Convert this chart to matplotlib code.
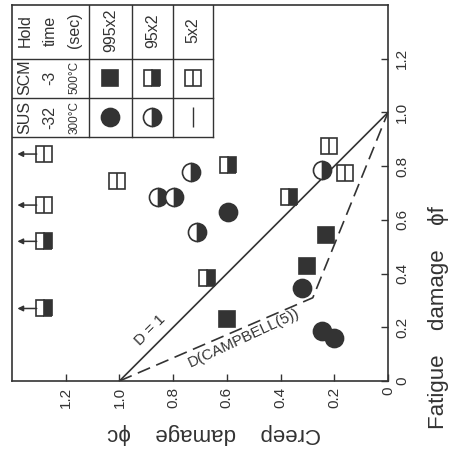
"""
 Creep-fatigue damage diagram (SCM and SUS, various hold times),
 drawn the way it appears in the scanned page: turned 90 degrees,
 creep damage running right-to-left along the bottom and fatigue
 damage running upward on the right.
"""

import matplotlib
matplotlib.use('Agg')
import matplotlib.pyplot as plt

plt.rcParams['font.family'] = ['Liberation Sans', 'DejaVu Sans']

ink = '#333333'

# SCM -3 (500°C), hold 995x2 sec : filled squares
scm995_creep = [0.60, 0.30, 0.23]
scm995_fatigue = [0.23, 0.43, 0.545]

# SCM -3, hold 95x2 sec : half filled squares
scm95_creep = [1.28, 1.28, 0.675, 0.595, 0.37]
scm95_fatigue = [0.52, 0.27, 0.385, 0.805, 0.685]
scm95_runout = [True, True, False, False, False]

# SCM -3, hold 5x2 sec : split open squares
scm5_creep = [1.28, 1.28, 1.01, 0.22, 0.16]
scm5_fatigue = [0.845, 0.655, 0.745, 0.875, 0.775]
scm5_runout = [True, True, False, False, False]

# SUS -32 (300°C), hold 995x2 sec : filled circles
sus995_creep = [0.595, 0.32, 0.245, 0.20]
sus995_fatigue = [0.63, 0.345, 0.185, 0.16]

# SUS -32, hold 95x2 sec : half filled circles
sus95_creep = [0.735, 0.855, 0.795, 0.71, 0.245]
sus95_fatigue = [0.78, 0.685, 0.685, 0.555, 0.785]

# damage envelopes
linear_creep = [1.0, 0.0]
linear_fatigue = [0.0, 1.0]
campbell_creep = [1.0, 0.28, 0.0]
campbell_fatigue = [0.0, 0.31, 1.0]

ticks = [0, 0.2, 0.4, 0.6, 0.8, 1.0, 1.2]
tick_labels = ['0', '0.2', '0.4', '0.6', '0.8', '1.0', '1.2']


# marker styles (used both for the points and the key table)
def filled_square(ax, c, f):
    ax.plot(c, f, 's', ms=11, mfc=ink, mec=ink, mew=1.2, ls='none')

def half_square(ax, c, f):
    ax.plot(c, f, 's', ms=11, fillstyle='right', mfc=ink, mfcalt='white',
            mec=ink, mew=1.2, ls='none')

def split_square(ax, c, f):
    ax.plot(c, f, 's', ms=11, mfc='white', mec=ink, mew=1.2, ls='none')
    ax.plot(c, f, '|', ms=11, mec=ink, mew=1.2, ls='none')

def filled_circle(ax, c, f):
    ax.plot(c, f, 'o', ms=13, mfc=ink, mec=ink, mew=1.2, ls='none')

def half_circle(ax, c, f):
    ax.plot(c, f, 'o', ms=13, fillstyle='right', mfc=ink, mfcalt='white',
            mec=ink, mew=1.2, ls='none')

def runout_arrows(ax, creep, fatigue, flags):
    for c, f, flag in zip(creep, fatigue, flags):
        if flag:
            ax.annotate('', xy=(c + 0.10, f), xytext=(c + 0.028, f),
                        arrowprops=dict(arrowstyle='-|>', color=ink, lw=1.1,
                                        mutation_scale=8, shrinkA=0, shrinkB=0))


fig = plt.figure(figsize=(4.61, 4.61), dpi=100)
ax = fig.add_axes([12 / 461, 1 - 381 / 461, 376 / 461, 376 / 461])

# envelopes
ax.plot(linear_creep, linear_fatigue, color=ink, lw=1.2)
ax.plot(campbell_creep, campbell_fatigue, color=ink, lw=1.2, ls=(0, (8, 4)))

# data points
runout_arrows(ax, scm95_creep, scm95_fatigue, scm95_runout)
runout_arrows(ax, scm5_creep, scm5_fatigue, scm5_runout)
filled_square(ax, scm995_creep, scm995_fatigue)
half_square(ax, scm95_creep, scm95_fatigue)
split_square(ax, scm5_creep, scm5_fatigue)
filled_circle(ax, sus995_creep, sus995_fatigue)
half_circle(ax, sus95_creep, sus95_fatigue)

ax.text(0.885, 0.19, 'D = 1', rotation=45, ha='center', va='center',
        fontsize=11, color=ink)
ax.text(0.535, 0.16, 'D(CAMPBELL(5))', rotation=25, ha='center', va='center',
        fontsize=11, color=ink)

# key table in the upper corner
col_lines = [1.113, 0.953, 0.801, 0.652]
row_lines = [1.2, 1.055, 0.91]
for c in col_lines:
    ax.plot([c, c], [row_lines[-1], 1.4], color=ink, lw=1.0)
for f in row_lines:
    ax.plot([1.4, col_lines[-1]], [f, f], color=ink, lw=1.0)

row_mid = [1.305, 1.13, 0.982]
sub_col = [1.352, 1.259, 1.166]
col_mid = [1.034, 0.877, 0.726]
row_text = [['Hold', 'time', '(sec)'], ['SCM', '-3', '500°C'], ['SUS', '-32', '300°C']]
for f, words in zip(row_mid, row_text):
    for c, w in zip(sub_col, words):
        size = 8.5 if '°' in w else 11.5
        ax.text(c, f, w, rotation=90, ha='center', va='center', fontsize=size, color=ink)
for c, w in zip(col_mid, ['995x2', '95x2', '5x2']):
    ax.text(c, row_mid[0], w, rotation=90, ha='center', va='center', fontsize=11.5, color=ink)

filled_square(ax, col_mid[0], row_mid[1])
half_square(ax, col_mid[1], row_mid[1])
split_square(ax, col_mid[2], row_mid[1])
filled_circle(ax, col_mid[0], row_mid[2])
half_circle(ax, col_mid[1], row_mid[2])
ax.plot(col_mid[2], row_mid[2], '|', ms=14, mec=ink, mew=1.0)

# axes: creep grows to the left, fatigue grows upward
ax.set_xlim(1.4, 0)
ax.set_ylim(0, 1.4)
ax.set_xticks(ticks)
ax.set_xticklabels(tick_labels, rotation=90)
ax.yaxis.tick_right()
ax.set_yticks(ticks)
ax.set_yticklabels(tick_labels, rotation=90, va='center')
ax.tick_params(direction='in', length=5, width=1.0, colors=ink, labelsize=11)
ax.tick_params(axis='x', pad=4)
ax.tick_params(axis='y', pad=5)
for s in ax.spines.values():
    s.set_color(ink)
    s.set_linewidth(1.2)

fig.text(438 / 461, 1 - 318 / 461, 'Fatigue    damage    ϕf', rotation=90,
         ha='center', va='center', fontsize=16, color=ink)
fig.text(214 / 461, 1 - 433 / 461, 'Creep    damage    ϕc', rotation=180,
         ha='center', va='center', fontsize=16, color=ink)

fig.savefig('out.png', dpi=100)
